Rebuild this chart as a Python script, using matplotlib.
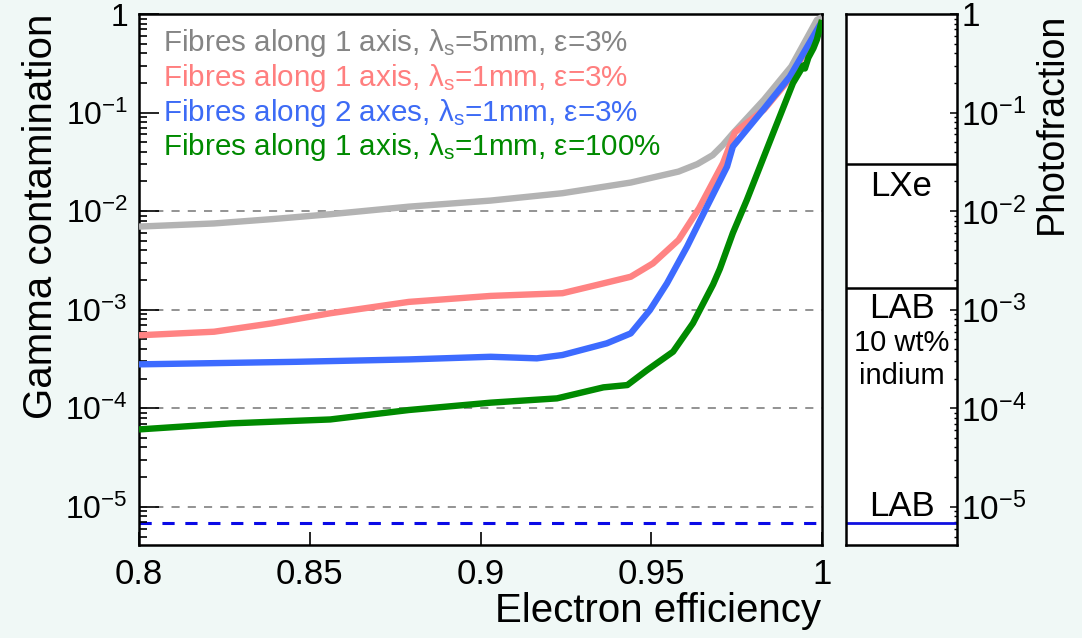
import math
import matplotlib
matplotlib.use("Agg")
import matplotlib.pyplot as plt
from matplotlib.ticker import LogLocator, FuncFormatter, NullFormatter

plt.rcParams["font.family"] = ["Liberation Sans", "DejaVu Sans"]
plt.rcParams["mathtext.fontset"] = "custom"
plt.rcParams["mathtext.rm"] = "Liberation Sans"
plt.rcParams["mathtext.it"] = "Liberation Sans:italic"
plt.rcParams["mathtext.bf"] = "Liberation Sans:bold"

# ---- data -------------------------------------------------------------
eff_gray = [0.800, 0.822, 0.839, 0.856, 0.879, 0.903, 0.924, 0.944, 0.958,
            0.9635, 0.968, 0.971, 0.974, 0.983, 0.991, 0.9985, 1.000]
gam_gray = [6.97e-3, 7.5e-3, 8.3e-3, 9.3e-3, 1.11e-2, 1.28e-2, 1.52e-2,
            1.95e-2, 2.52e-2, 3.0e-2, 3.7e-2, 4.7e-2, 6.2e-2, 0.135, 0.293,
            0.87, 0.93]

eff_red = [0.800, 0.822, 0.839, 0.856, 0.879, 0.903, 0.924, 0.934, 0.944,
           0.9505, 0.958, 0.964, 0.971, 0.9745, 0.983, 0.991, 0.9994, 1.000]
gam_red = [5.5e-4, 5.98e-4, 7.28e-4, 9.2e-4, 1.2e-3, 1.38e-3, 1.47e-3, 1.78e-3,
           2.16e-3, 2.95e-3, 5.1e-3, 1.07e-2, 3.06e-2, 6.3e-2, 0.107, 0.23,
           0.78, 0.85]

eff_blue = [0.800, 0.846, 0.879, 0.903, 0.9165, 0.924, 0.937, 0.944, 0.9496,
            0.9546, 0.9605, 0.9663, 0.9722, 0.9739, 0.9827, 0.9906, 0.9994,
            1.000]
gam_blue = [2.79e-4, 2.96e-4, 3.13e-4, 3.33e-4, 3.21e-4, 3.47e-4, 4.56e-4,
            5.75e-4, 9.9e-4, 1.85e-3, 4.37e-3, 1.11e-2, 2.83e-2, 4.52e-2,
            0.106, 0.232, 0.776, 0.83]

eff_green = [0.800, 0.827, 0.856, 0.879, 0.903, 0.9224, 0.936, 0.943, 0.9488,
             0.9564, 0.9622, 0.9681, 0.9701, 0.9739, 0.978, 0.9857, 0.9915,
             0.9935, 0.9945, 0.9950, 0.9960, 0.9975, 0.9985, 1.000]
gam_green = [6.1e-5, 7.03e-5, 7.7e-5, 9.6e-5, 1.14e-4, 1.26e-4, 1.63e-4,
             1.72e-4, 2.44e-4, 3.75e-4, 7.28e-4, 1.8e-3, 2.6e-3, 6.0e-3,
             1.3e-2, 6.2e-2, 0.199, 0.26, 0.30, 0.28, 0.36, 0.45, 0.55, 0.87]

series_labels = [
    r"Fibres along 1 axis, λ$_{\rm s}$=5mm, ε=3%",
    r"Fibres along 1 axis, λ$_{\rm s}$=1mm, ε=3%",
    r"Fibres along 2 axes, λ$_{\rm s}$=1mm, ε=3%",
    r"Fibres along 1 axis, λ$_{\rm s}$=1mm, ε=100%",
]
line_colors = ["#b3b3b3", "#ff8383", "#3d6bff", "#008a00"]
text_colors = ["#858585", "#ff7f7f", "#3d6bf5", "#008a00"]

# photofraction levels of the scintillator options
pf_lxe = 0.03
pf_lab_indium = 1.65e-3
pf_lab = 6.8e-6
grid_levels = [1e-2, 1e-3, 1e-4, 1e-5]

x_ticks = [0.8, 0.85, 0.9, 0.95, 1.0]
x_ticklabels = ["0.8", "0.85", "0.9", "0.95", "1"]
y_lim = (4.1e-6, 1.0)

# ---- figure ------------------------------------------------------------
W, H = 1082, 638
bg = "#f0f8f6"
fig = plt.figure(figsize=(W / 100, H / 100), dpi=100, facecolor=bg)


def box(x0, y0, x1, y1):
    return [x0 / W, 1 - y1 / H, (x1 - x0) / W, (y1 - y0) / H]


def log_label(v, pos):
    if abs(v - 1) < 1e-9:
        return "1"
    return r"$10^{%d}$" % round(math.log10(v))


ax = fig.add_axes(box(139, 14, 822, 545))
ax.set_facecolor("white")
ax.set_xlim(0.8, 1.0)
ax.set_yscale("log")
ax.set_ylim(*y_lim)

for lvl in grid_levels:
    ax.axhline(lvl, color="#8a8a8a", lw=1.3, ls=(0, (4.5, 4.5)), zorder=1)
ax.axhline(pf_lab, color="#0a0ae6", lw=2.2, ls=(0, (4, 3.5)), zorder=1)

for xs, ys, c in zip([eff_gray, eff_red, eff_blue, eff_green],
                     [gam_gray, gam_red, gam_blue, gam_green], line_colors):
    ax.plot(xs, ys, color=c, lw=4.6, solid_joinstyle="round",
            solid_capstyle="butt", zorder=3)

for i, (lab, c) in enumerate(zip(series_labels, text_colors)):
    fig.text(163 / W, 1 - (43 + 34.8 * i) / H, lab, color=c, fontsize=21.3,
             ha="left", va="center")

ax.set_xticks(x_ticks)
ax.set_xticklabels(x_ticklabels)
ax.tick_params(axis="x", which="major", direction="in", length=9.5, width=1.2,
               labelsize=25, pad=9, top=False)
ax.tick_params(axis="x", which="minor", bottom=False, top=False)
ax.yaxis.set_major_locator(LogLocator(base=10, numticks=10))
ax.yaxis.set_minor_locator(LogLocator(base=10, subs=range(2, 10), numticks=50))
ax.yaxis.set_major_formatter(FuncFormatter(log_label))
ax.yaxis.set_minor_formatter(NullFormatter())
ax.tick_params(axis="y", which="major", direction="in", length=14.5, width=1.2,
               labelsize=23, pad=8, right=False)
ax.tick_params(axis="y", which="minor", direction="in", length=6, width=1.2,
               right=False)
for s in ax.spines.values():
    s.set_linewidth(1.8)

fig.text(41 / W, 1 - 14 / H, "Gamma contamination", rotation=90, fontsize=29,
         ha="center", va="top")
fig.text(821 / W, 1 - 611 / H, "Electron efficiency", fontsize=29,
         ha="right", va="center")

# ---- photofraction panel ----------------------------------------------
axr = fig.add_axes(box(846, 14, 957, 545))
axr.set_facecolor("white")
axr.set_yscale("log")
axr.set_ylim(*y_lim)
axr.set_xlim(0, 1)
axr.set_xticks([])
axr.axhline(pf_lxe, color="black", lw=1.8)
axr.axhline(pf_lab_indium, color="black", lw=1.8)
axr.axhline(pf_lab, color="#1010e0", lw=2.0)
axr.yaxis.set_label_position("right")
axr.yaxis.tick_right()
axr.yaxis.set_major_locator(LogLocator(base=10, numticks=10))
axr.yaxis.set_minor_locator(LogLocator(base=10, subs=range(2, 10), numticks=50))
axr.yaxis.set_major_formatter(FuncFormatter(log_label))
axr.yaxis.set_minor_formatter(NullFormatter())
axr.tick_params(axis="y", which="major", direction="in", length=5, width=1.1,
                labelsize=24, pad=3, left=False, right=True)
axr.tick_params(axis="y", which="minor", direction="in", length=2.5, width=1.0,
                left=False, right=True)
for s in axr.spines.values():
    s.set_linewidth(1.8)

cx = 901.5 / W
fig.text(cx, 1 - 187 / H, "LXe", fontsize=25, ha="center", va="center")
fig.text(cx, 1 - 308 / H, "LAB", fontsize=25, ha="center", va="center")
fig.text(cx, 1 - 343 / H, "10 wt%", fontsize=21, ha="center", va="center")
fig.text(cx, 1 - 376 / H, "indium", fontsize=21, ha="center", va="center")
fig.text(cx, 1 - 506 / H, "LAB", fontsize=25, ha="center", va="center")

fig.text(1052 / W, 1 - 13 / H, "Photofraction", rotation=90, fontsize=27,
         ha="center", va="top")

fig.savefig("out.png", dpi=100, facecolor=bg)
